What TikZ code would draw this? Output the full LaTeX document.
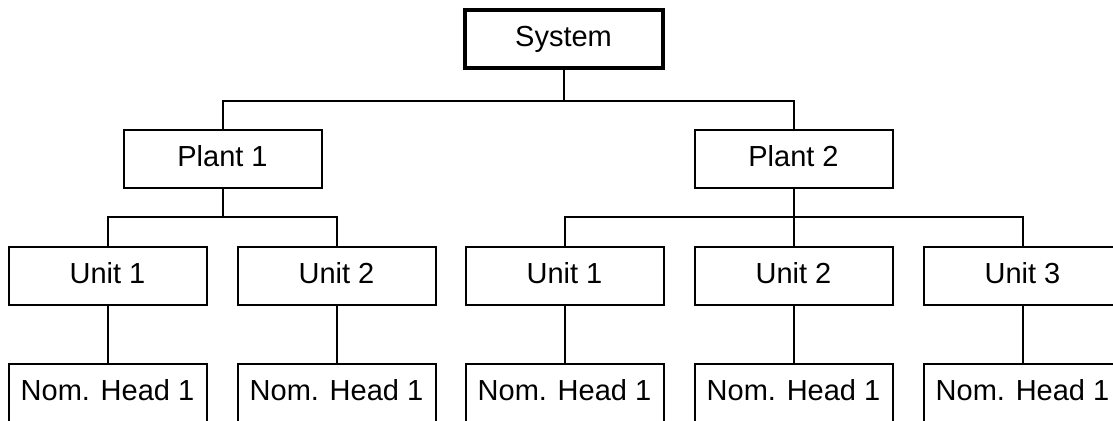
\documentclass[tikz,border=0pt]{standalone}
\usepackage{fontspec}
\setmainfont{Liberation Sans}
\begin{document}
\begin{tikzpicture}[x=0.5pt,y=-0.5pt,
  box/.style={draw=black, line width=1pt, rectangle, inner sep=0pt,
    minimum width=99pt, minimum height=29pt, font=\fontsize{14.5pt}{17pt}\selectfont,
    text height=0.716em, text depth=0pt, fill=white},
  topbox/.style={box, line width=2pt},
  conn/.style={draw=black, line width=1pt}]
\useasboundingbox (0,0) rectangle (1113,421);
\clip (0,0) rectangle (1113,421);
\fill[white] (0,0) rectangle (1113,421);
% levels of the buses
\coordinate (bus0) at (0,101);
\coordinate (bus1) at (0,217);
% nodes
\node[topbox] (sys) at (563.5,39) {System};
\node[box] (p1) at (222.5,159) {Plant 1};
\node[box] (p2) at (793.5,159) {Plant 2};
\node[box] (u11) at (107.5,276) {Unit 1};
\node[box] (u12) at (336.5,276) {Unit 2};
\node[box] (u21) at (564.5,276) {Unit 1};
\node[box] (u22) at (793.5,276) {Unit 2};
\node[box] (u23) at (1022.5,276) {Unit 3};
\node[box] (n11) at (107.5,393.5) {Nom. Head 1};
\node[box] (n12) at (336.5,393.5) {Nom. Head 1};
\node[box] (n21) at (564.5,393.5) {Nom. Head 1};
\node[box] (n22) at (793.5,393.5) {Nom. Head 1};
\node[box] (n23) at (1022.5,393.5) {Nom. Head 1};
% connectors
\draw[conn] (sys.south) -- (sys.south |- bus0);
\draw[conn] (p1.north) -- (p1.north |- bus0) -| (p2.north);
\draw[conn] (p1.south) -- (p1.south |- bus1);
\draw[conn] (u11.north) -- (u11.north |- bus1) -| (u12.north);
\draw[conn] (p2.south) -- (u22.north);
\draw[conn] (u21.north) -- (u21.north |- bus1) -| (u23.north);
\draw[conn] (u11.south) -- (n11.north);
\draw[conn] (u12.south) -- (n12.north);
\draw[conn] (u21.south) -- (n21.north);
\draw[conn] (u22.south) -- (n22.north);
\draw[conn] (u23.south) -- (n23.north);
\end{tikzpicture}
\end{document}
